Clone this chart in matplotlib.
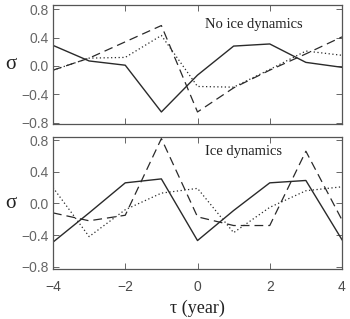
import matplotlib
matplotlib.use("Agg")
import matplotlib.pyplot as plt

# lag in years
tau = [-4, -3, -2, -1, 0, 1, 2, 3, 4]

# top panel: no ice dynamics
no_ice_solid = [0.29, 0.07, 0.01, -0.65, -0.13, 0.28, 0.31, 0.05, -0.02]
no_ice_dashed = [-0.06, 0.11, 0.34, 0.57, -0.65, -0.31, -0.06, 0.17, 0.41]
no_ice_dotted = [-0.06, 0.11, 0.12, 0.43, -0.29, -0.30, -0.05, 0.21, 0.15]

# bottom panel: ice dynamics
ice_solid = [-0.49, -0.12, 0.26, 0.31, -0.47, -0.09, 0.26, 0.29, -0.46]
ice_dashed = [-0.12, -0.22, -0.15, 0.82, -0.17, -0.28, -0.28, 0.66, -0.21]
ice_dotted = [0.20, -0.42, -0.08, 0.13, 0.19, -0.37, -0.05, 0.16, 0.21]

yticks = [-0.8, -0.4, 0.0, 0.4, 0.8]
xticks = [-4, -2, 0, 2, 4]

line_col = "#2a2a2a"
text_col = "#4a4a4a"
serif = "Liberation Serif"
sans = "Liberation Sans"

fig = plt.figure(figsize=(3.5, 3.19), dpi=100)
W, H = 350, 319
ax1 = fig.add_axes([53 / W, 1 - 124 / H, 289 / W, 119 / H])
ax2 = fig.add_axes([53 / W, 1 - 269 / H, 289 / W, 132 / H])

panels = [
    (ax1, no_ice_solid, no_ice_dashed, no_ice_dotted, "No ice dynamics", 0.58, (-0.82, 0.86)),
    (ax2, ice_solid, ice_dashed, ice_dotted, "Ice dynamics", 0.66, (-0.83, 0.84)),
]

for ax, solid, dashed, dotted, title, ty, ylim in panels:
    ax.plot(tau, solid, color=line_col, lw=1.0, ls="-")
    ax.plot(tau, dashed, color=line_col, lw=0.9, ls=(0, (7, 4)))
    ax.plot(tau, dotted, color=line_col, lw=0.9, ls=(0, (1, 2)))
    ax.set_xlim(-4, 4)
    ax.set_ylim(*ylim)
    ax.set_yticks(yticks)
    ax.set_yticklabels([f"{v:.1f}".replace("-", "\u2212") for v in yticks],
                       family=sans, fontsize=10, color=text_col)
    ax.set_xticks(xticks)
    ax.tick_params(direction="in", top=True, right=True, length=4,
                   width=0.7, colors="#666666")
    ax.tick_params(axis="y", pad=3)
    ax.tick_params(axis="x", pad=8)
    for s in ax.spines.values():
        s.set_color("#555555")
        s.set_linewidth(0.9)
    ax.text(0.2, ty, title, family=serif, fontsize=10.5, color="#222222",
            va="center", ha="left")
    ax.set_ylabel("\u03c3", family=serif, fontsize=15, rotation=0,
                  va="center", ha="center", color="#222222")
    ax.yaxis.set_label_coords(-0.145, 0.5)

ax1.set_xticklabels([])
ax2.set_xticklabels([f"{v}".replace("-", "\u2212") for v in xticks],
                    family=sans, fontsize=10, color=text_col)
ax2.set_xlabel("\u03c4 (year)", family=serif, fontsize=13, color="#222222", labelpad=4)

fig.savefig("out.png", dpi=100)
